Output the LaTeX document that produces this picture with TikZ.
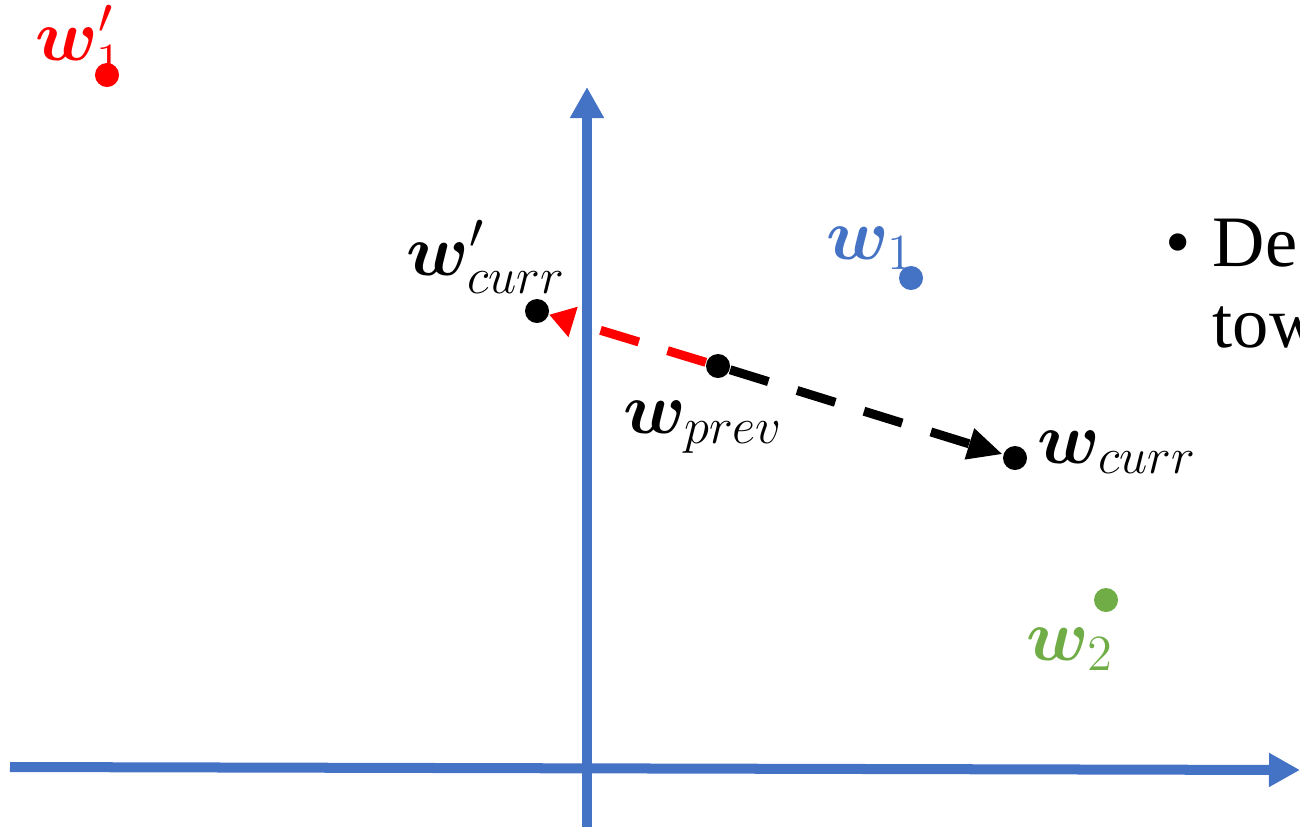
\documentclass[tikz,border=0pt]{standalone}
\usepackage[no-math]{fontspec}
\usepackage{amsmath}
\usepackage{bm}
\usetikzlibrary{arrows.meta}
\newfontfamily\timesfont{Liberation Serif}
\definecolor{axisblue}{HTML}{4472C4}
\definecolor{ptgreen}{HTML}{70AD47}

\begin{document}
\begin{tikzpicture}[x=0.01cm, y=-0.01cm,
  axis/.style={draw=axisblue, line width=0.1cm, -{Triangle[length=0.31cm, width=0.32cm]}},
  dot/.style={circle, fill, inner sep=0pt, minimum size=0.24cm},
  lbl/.style={anchor=base west, inner sep=0pt, font=\huge},
  move/.style={line width=0.09cm, dash pattern=on 0.4cm off 0.3cm},
  bullettext/.style={anchor=base west, inner sep=0pt, font=\timesfont\fontsize{20.6}{24}\selectfont}
]
\useasboundingbox (0,0) rectangle (1300,827);
\clip (0,0) rectangle (1300,827);

% Axes
\coordinate (xstart) at (10,767);
\coordinate (xend) at (1300,770);
\coordinate (ystart) at (587,827);
\coordinate (yend) at (587,87);
\draw[axis] (xstart) -- (xend);
\draw[axis] (ystart) -- (yend);

% Points
\node[dot, red] (w1p) at (107,75) {};
\node[dot, axisblue] (w1) at (911,278) {};
\node[dot, ptgreen] (w2) at (1106,600) {};
\node[dot] (wcurrp) at (537,311) {};
\node[dot] (wprev) at (718,366) {};
\node[dot] (wcurr) at (1015,458) {};

% Labels
\node[lbl, red] (w1plbl) at (35,60) {$\boldsymbol{w}'_1$};
\node[lbl, axisblue] (w1lbl) at (826,259) {$\boldsymbol{w}_1$};
\node[lbl, ptgreen] (w2lbl) at (1026,660) {$\boldsymbol{w}_2$};
\node[lbl] (wcurrplbl) at (406,275) {$\boldsymbol{w}'_{curr}$};
\node[lbl] (wprevlbl) at (623,433) {$\boldsymbol{w}_{prev}$};
\node[lbl] (wcurrlbl) at (1037,463) {$\boldsymbol{w}_{curr}$};

% Arrows
\draw[move, -{Triangle[length=0.35cm, width=0.3cm]}] (wprev) -- (wcurr);
\draw[move, red, -{Triangle[length=0.25cm, width=0.3cm]}] (wprev) -- (wcurrp);

% Text
\node[bullettext] (bul) at (1165,266) {•};
\node[bullettext] (line1) at (1212,266) {De};
\node[bullettext] (line2) at (1212,347) {tow};

\end{tikzpicture}
\end{document}
